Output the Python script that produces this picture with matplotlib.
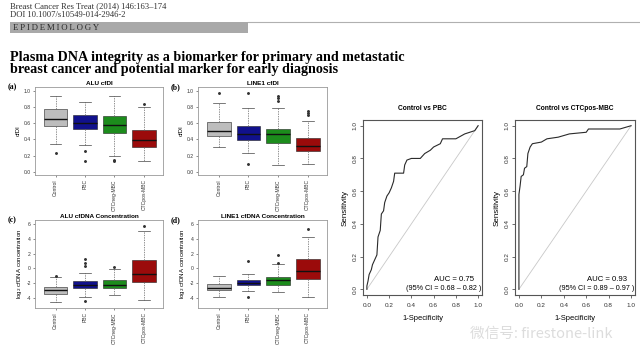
import matplotlib
matplotlib.use("Agg")
from matplotlib import pyplot as plt
from matplotlib.patches import Rectangle

W, H = 640, 360

groups = ["Control", "PBC", "CTCneg-MBC", "CTCpos-MBC"]
box_colors = ["#bdbdbd", "#11118c", "#1c8c1c", "#9b0b0b"]

# box stats per group: (whislo, q1, med, q3, whishi)
alu_cfdi = [(0.34, 0.56, 0.65, 0.77, 0.94), (0.33, 0.53, 0.60, 0.70, 0.86),
            (0.19, 0.48, 0.58, 0.69, 0.94), (0.13, 0.31, 0.39, 0.52, 0.80)]
alu_cfdi_fliers = [[0.23], [0.25, 0.13], [0.13, 0.14], [0.84]]

line1_cfdi = [(0.30, 0.44, 0.50, 0.61, 0.85), (0.23, 0.39, 0.47, 0.57, 0.79),
              (0.08, 0.35, 0.46, 0.53, 0.79), (0.09, 0.26, 0.32, 0.42, 0.63)]
line1_cfdi_fliers = [[0.97], [0.97, 0.09], [0.87, 0.91, 0.94], [0.70, 0.72, 0.75]]

alu_conc = [(-4.5, -3.4, -2.9, -2.5, -1.1), (-3.9, -2.7, -2.3, -1.7, -0.6),
            (-3.6, -2.7, -2.2, -1.6, -0.1), (-4.3, -1.8, -0.7, 1.1, 5.0)]
alu_conc_fliers = [[-1.0], [0.3, 0.7, 1.3, -4.4], [0.2], [5.8]]

line1_conc = [(-3.9, -2.9, -2.6, -2.1, -1.0), (-3.0, -2.3, -2.0, -1.6, -0.8),
              (-3.2, -2.2, -1.6, -1.1, 0.6), (-3.8, -1.4, -0.3, 1.3, 4.2)]
line1_conc_fliers = [[], [1.0, -3.9], [0.8, 1.8], [5.3]]

# ROC curves
pbc_fpr = [0.0, 0.0, 0.01, 0.02, 0.04, 0.05, 0.07, 0.09, 0.10, 0.12, 0.13, 0.15,
           0.16, 0.18, 0.20, 0.22, 0.24, 0.25, 0.33, 0.34, 0.36, 0.40, 0.48,
           0.52, 0.57, 0.60, 0.66, 0.68, 0.80, 0.88, 0.97, 1.0]
pbc_tpr = [0.0, 0.02, 0.05, 0.09, 0.12, 0.15, 0.18, 0.21, 0.32, 0.36, 0.46, 0.48,
           0.53, 0.57, 0.59, 0.62, 0.66, 0.71, 0.71, 0.76, 0.79, 0.80, 0.80,
           0.83, 0.85, 0.87, 0.89, 0.92, 0.92, 0.95, 0.97, 1.0]
mbc_fpr = [0.0, 0.0, 0.01, 0.02, 0.04, 0.05, 0.07, 0.08, 0.10, 0.12, 0.20, 0.25,
           0.35, 0.45, 0.60, 0.62, 0.90, 0.95, 1.0]
mbc_tpr = [0.0, 0.58, 0.63, 0.69, 0.70, 0.74, 0.75, 0.83, 0.87, 0.89, 0.90, 0.92,
           0.93, 0.95, 0.96, 0.98, 0.98, 0.99, 1.0]
roc_titles = ["Control vs PBC", "Control vs CTCpos-MBC"]
roc_auc = ["AUC = 0.75", "AUC = 0.93"]
roc_ci = ["(95% CI = 0.68 \u2013 0.82 )", "(95% CI = 0.89 \u2013 0.97 )"]

SANS = "Liberation Sans"
SERIF = "Liberation Serif"


def px_axes(fig, x0, y0, x1, y1):
    return fig.add_axes([x0 / W, 1 - y1 / H, (x1 - x0) / W, (y1 - y0) / H])


def fig_text(fig, x, y, s, **kw):
    fig.text(x / W, 1 - y / H, s, **kw)


def box_panel(ax, stats, fliers, title, ylabel, ylim, yticks):
    bxp = []
    for (lo, q1, med, q3, hi), fl in zip(stats, fliers):
        bxp.append(dict(whislo=lo, q1=q1, med=med, q3=q3, whishi=hi, fliers=fl))
    parts = ax.bxp(bxp, positions=range(1, 5), widths=0.8, patch_artist=True,
                   boxprops=dict(linewidth=0.4, edgecolor="#222222"),
                   medianprops=dict(color="#111111", linewidth=1.0),
                   whiskerprops=dict(color="#666666", linewidth=0.5,
                                     linestyle=(0, (2, 1.5))),
                   capprops=dict(color="#444444", linewidth=0.5),
                   capwidths=0.4,
                   flierprops=dict(marker="o", markersize=1.1,
                                   markerfacecolor="#333333",
                                   markeredgecolor="#333333"))
    for patch, c in zip(parts["boxes"], box_colors):
        patch.set_facecolor(c)
    ax.set_xlim(0.3, 4.65)
    ax.set_ylim(*ylim)
    ax.set_yticks(yticks)
    ax.set_yticklabels([f"{t:g}" if isinstance(t, int) else f"{t:.1f}" for t in yticks])
    ax.set_xticks(range(1, 5))
    ax.set_xticklabels(groups, rotation=90)
    ax.tick_params(labelsize=3.6, length=1.5, width=0.4, pad=1.5,
                   colors="#333333")
    ax.set_title(title, fontsize=4.6, fontweight="bold", family=SANS, pad=1.5)
    ax.set_ylabel(ylabel, fontsize=4.4, family=SANS, labelpad=2)
    for sp in ax.spines.values():
        sp.set_color("#999999")
        sp.set_linewidth(0.6)
    for lab in ax.get_xticklabels() + ax.get_yticklabels():
        lab.set_family(SANS)


def roc_panel(ax, fpr, tpr, title, auc, ci):
    ax.plot([0, 1], [0, 1], color="#c8c8c8", linewidth=0.6)
    ax.plot(fpr, tpr, color="#2a2a2a", linewidth=0.8)
    ax.set_xlim(-0.035, 1.035)
    ax.set_ylim(-0.035, 1.035)
    ticks = [0.0, 0.2, 0.4, 0.6, 0.8, 1.0]
    ax.set_xticks(ticks)
    ax.set_yticks(ticks)
    ax.set_xticklabels([f"{t:.1f}" for t in ticks])
    ax.set_yticklabels([f"{t:.1f}" for t in ticks], rotation=90, va="center")
    ax.tick_params(labelsize=4.6, length=2, width=0.5, colors="#333333")
    ax.tick_params(axis="x", pad=4)
    ax.tick_params(axis="y", pad=2)
    for lab in ax.get_xticklabels() + ax.get_yticklabels():
        lab.set_family(SANS)
    ax.set_title(title, fontsize=4.8, fontweight="bold", family=SANS, pad=7)
    ax.set_xlabel("1-Specificity", fontsize=5.4, family=SANS, labelpad=5)
    ax.set_ylabel("Sensitivity", fontsize=5.8, family=SANS, labelpad=3)
    ax.text(0.93, 0.07, auc, fontsize=5.6, family=SANS, ha="right", va="bottom",
            transform=ax.transAxes)
    ax.text(0.995, 0.015, ci, fontsize=5.2, family=SANS, ha="right", va="bottom",
            transform=ax.transAxes)
    for sp in ax.spines.values():
        sp.set_color("#555555")
        sp.set_linewidth(0.8)


fig = plt.figure(figsize=(6.4, 3.6), dpi=100)
fig.patch.set_facecolor("white")

# header of the paper page
fig_text(fig, 10, 6, "Breast Cancer Res Treat (2014) 146:163\u2013174", fontsize=6.2,
         family=SERIF, va="center", color="#333333")
fig_text(fig, 10, 15, "DOI 10.1007/s10549-014-2946-2", fontsize=6.2,
         family=SERIF, va="center", color="#333333")
fig.add_artist(Rectangle((10 / W, 1 - 33 / H), 238 / W, 11 / H,
                         transform=fig.transFigure, facecolor="#a9a9a9",
                         edgecolor="none"))
fig.add_artist(plt.Line2D([248 / W, 1.0], [1 - 22 / H, 1 - 22 / H],
                          transform=fig.transFigure, color="#b0b0b0",
                          linewidth=0.8))
fig_text(fig, 13, 27.5, "E\u2009P\u2009I\u2009D\u2009E\u2009M\u2009I\u2009O\u2009L\u2009O\u2009G\u2009Y",
         fontsize=6.4, family=[SERIF, "DejaVu Serif"], va="center", color="#2a2a2a")
fig_text(fig, 10, 57, "Plasma DNA integrity as a biomarker for primary and metastatic",
         fontsize=10.2, family=SERIF, fontweight="bold", va="center")
fig_text(fig, 10, 70, "breast cancer and potential marker for early diagnosis",
         fontsize=10.2, family=SERIF, fontweight="bold", va="center")

ax_a = px_axes(fig, 35, 87, 163, 175)
ax_b = px_axes(fig, 198, 87, 327, 175)
ax_c = px_axes(fig, 35, 220, 163, 308)
ax_d = px_axes(fig, 198, 220, 327, 308)

cfdi_ticks = [0.0, 0.2, 0.4, 0.6, 0.8, 1.0]
conc_ticks = [-4, -2, 0, 2, 4, 6]
conc_label = "log$_2$ cfDNA concentration"
box_panel(ax_a, alu_cfdi, alu_cfdi_fliers, "ALU cfDI", "cfDI", (-0.04, 1.045), cfdi_ticks)
box_panel(ax_b, line1_cfdi, line1_cfdi_fliers, "LINE1 cfDI", "cfDI", (-0.04, 1.045), cfdi_ticks)
box_panel(ax_c, alu_conc, alu_conc_fliers, "ALU cfDNA Concentration", conc_label,
          (-5.35, 6.55), conc_ticks)
box_panel(ax_d, line1_conc, line1_conc_fliers, "LINE1 cfDNA Concentration", conc_label,
          (-5.35, 6.55), conc_ticks)

for lab, (x, y) in zip(["(a)", "(b)", "(c)", "(d)"],
                       [(8, 87), (171, 87), (8, 220), (171, 220)]):
    fig_text(fig, x, y, lab, fontsize=5.6, family=SERIF, fontweight="bold", va="center")

ax_r1 = px_axes(fig, 363, 120, 482, 295)
ax_r2 = px_axes(fig, 515, 120, 635, 295)
roc_panel(ax_r1, pbc_fpr, pbc_tpr, roc_titles[0], roc_auc[0], roc_ci[0])
roc_panel(ax_r2, mbc_fpr, mbc_tpr, roc_titles[1], roc_auc[1], roc_ci[1])

# watermark
fig_text(fig, 470, 334, "\u5fae\u4fe1\u53f7: firestone-link", fontsize=10.5,
         family=["Noto Sans CJK SC", "DejaVu Sans"], va="center", color="#d4d4d4",
         alpha=0.8, zorder=0)

fig.savefig("out.png", dpi=100)
